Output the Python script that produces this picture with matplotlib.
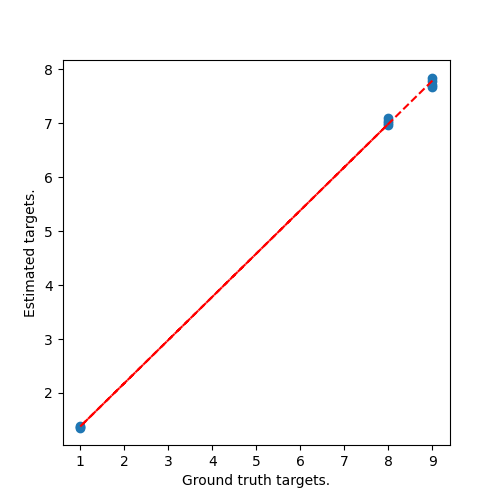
import numpy as np
import matplotlib
matplotlib.use("Agg")
import matplotlib.pyplot as plt

# ground truth vs estimated targets
ground_truth = [9, 9, 9, 9, 8, 8, 8, 1, 1, 1, 8]
estimated = [7.85, 7.72, 7.78, 7.68, 7.10, 6.97, 7.04, 1.36, 1.38, 1.37, 7.00]

fig, ax = plt.subplots(figsize=(5, 5), dpi=100)
ax.scatter(ground_truth, estimated)

# linear fit of estimates against ground truth
coef = np.polyfit(ground_truth, estimated, 1)
fitted = np.polyval(coef, ground_truth)
ax.plot(ground_truth, fitted, "r--")

ax.set_xlabel("Ground truth targets.")
ax.set_ylabel("Estimated targets.")
fig.savefig("out.png")
